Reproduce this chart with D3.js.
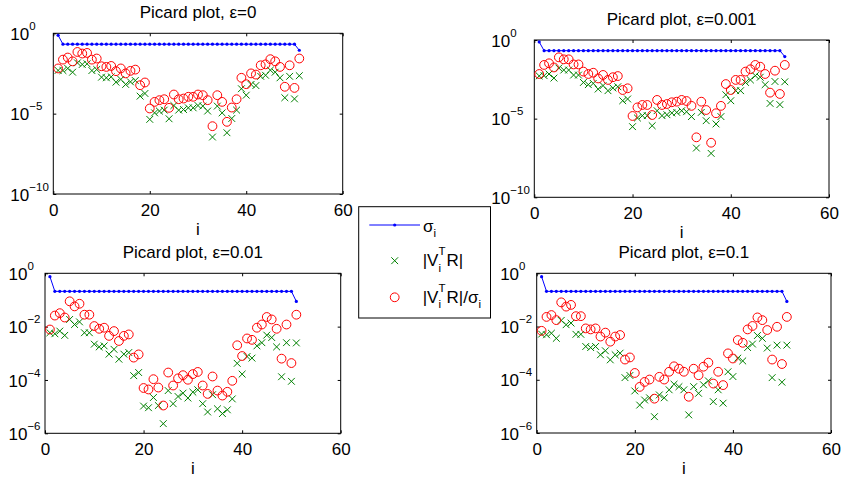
<!DOCTYPE html>
<html><head><meta charset="utf-8">
<script src="https://cdn.jsdelivr.net/npm/d3@7"></script>
<style>
body{margin:0;background:#fff}
svg{display:block}
text{font-family:"Liberation Sans",Arial,Helvetica,sans-serif;fill:#000}
</style></head><body>
<svg id="c" width="841" height="481"></svg>
<script>
// ---------------- data ----------------
const idx = [1,2,3,4,5,6,7,8,9,10,11,12,13,14,15,16,17,18,19,20,21,22,23,24,25,26,27,28,29,30,
  31,32,33,34,35,36,37,38,39,40,41,42,43,44,45,46,47,48,49,50,51];
const sigma = [0.75,0.21,0.21,0.21,0.21,0.21,0.21,0.21,0.21,0.21,0.21,0.21,0.21,0.21,0.21,0.21,0.21,
  0.21,0.21,0.21,0.21,0.21,0.21,0.21,0.21,0.21,0.21,0.21,0.21,0.21,0.21,0.21,0.21,0.21,0.21,0.21,0.21,
  0.21,0.21,0.21,0.21,0.21,0.21,0.21,0.21,0.21,0.21,0.21,0.21,0.21,0.088];
const titles = ["Picard plot, \u03b5=0","Picard plot, \u03b5=0.001","Picard plot, \u03b5=0.01","Picard plot, \u03b5=0.1"];
const xTicks = [0,20,40,60];
const yTicksWide = [1e-10,1e-5,1];
const yTicksNarrow = [1e-6,1e-4,1e-2,1];
const legendLabels = ["sigma","vtr","ratio"];

const vtrEps0 = [4.9e-3,4.8e-3,6.5e-3,3.8e-3,1.45e-2,1.15e-2,1.26e-2,4.8e-3,5.6e-3,1.86e-3,
 1.7e-3,1.95e-3,9.1e-4,1.35e-3,6.6e-4,9.5e-4,1.15e-3,1.23e-4,1.8e-4,4.4e-6,
 1.12e-5,1.45e-5,1.66e-5,4.8e-6,3.2e-5,1.66e-5,1.8e-5,2.3e-5,2.3e-5,3.2e-5,
 2.95e-5,1.45e-5,3.5e-7,2.95e-5,1.12e-5,6.5e-7,5.0e-6,1.66e-5,3.55e-4,1.41e-4,
 6.6e-4,5.6e-4,2.1e-3,2.45e-3,5.1e-3,3.8e-3,1.7e-3,9.8e-5,2.1e-3,8.3e-5,2.3e-3];
const ratioEps0 = [6.5e-3,2.3e-2,3.1e-2,1.8e-2,6.9e-2,5.5e-2,6.0e-2,2.3e-2,2.7e-2,8.9e-3,
 8.1e-3,9.3e-3,4.4e-3,6.5e-3,3.2e-3,4.6e-3,5.5e-3,5.9e-4,8.7e-4,2.1e-5,
 5.4e-5,6.9e-5,7.9e-5,2.3e-5,1.55e-4,7.9e-5,8.7e-5,1.12e-4,1.12e-4,1.55e-4,
 1.41e-4,6.9e-5,1.66e-6,1.41e-4,5.4e-5,3.1e-6,2.4e-5,7.9e-5,1.7e-3,6.8e-4,
 3.2e-3,2.7e-3,1.02e-2,1.17e-2,2.45e-2,1.8e-2,8.1e-3,4.7e-4,1.02e-2,4.0e-4,2.7e-2];

const vtrEps001 = [5.2e-3,5.4e-3,6.9e-3,3.8e-3,1.66e-2,1.23e-2,1.23e-2,5.9e-3,5.9e-3,2.0e-3,
 1.45e-3,1.74e-3,7.6e-4,1.26e-3,6.0e-4,8.9e-4,1.07e-3,1.38e-4,1.78e-4,3.1e-6,
 1.10e-5,1.55e-5,1.55e-5,3.55e-6,3.2e-5,1.55e-5,1.78e-5,2.3e-5,2.5e-5,3.2e-5,
 2.75e-5,1.35e-5,1.35e-7,2.5e-5,7.4e-6,6.2e-8,4.6e-6,1.35e-5,3.3e-4,1.38e-4,
 6.0e-4,6.0e-4,2.0e-3,2.9e-3,5.4e-3,4.3e-3,1.45e-3,9.3e-5,2.3e-3,7.8e-5,2.2e-3];
const ratioEps001 = [6.9e-3,2.6e-2,3.3e-2,1.8e-2,7.9e-2,5.9e-2,5.9e-2,2.8e-2,2.8e-2,9.8e-3,
 6.9e-3,8.3e-3,3.6e-3,6.0e-3,2.9e-3,4.3e-3,5.1e-3,6.6e-4,8.5e-4,1.48e-5,
 5.2e-5,7.4e-5,7.4e-5,1.7e-5,1.55e-4,7.4e-5,8.5e-5,1.10e-4,1.2e-4,1.55e-4,
 1.32e-4,6.5e-5,6.5e-7,1.2e-4,3.55e-5,2.95e-7,2.2e-5,6.5e-5,1.58e-3,6.6e-4,
 2.9e-3,2.9e-3,9.8e-3,1.38e-2,2.6e-2,2.0e-2,6.9e-3,4.5e-4,1.12e-2,3.7e-4,2.6e-2];

const vtrEps01 = [5.9e-3,5.4e-3,6.8e-3,4.7e-3,1.86e-2,1.2e-2,1.51e-2,5.9e-3,5.9e-3,2.2e-3,
 1.74e-3,1.9e-3,9.3e-4,1.41e-3,6.0e-4,9.3e-4,1.07e-3,1.45e-4,1.9e-4,1.05e-5,
 9.1e-6,2.2e-5,1.10e-5,2.3e-6,4.0e-5,1.29e-5,2.4e-5,3.2e-5,2.1e-5,3.5e-5,
 4.3e-5,1.29e-5,6.3e-6,2.8e-5,8.3e-6,5.5e-6,7.6e-6,1.95e-5,4.2e-4,1.66e-4,
 7.6e-4,6.6e-4,1.9e-3,2.5e-3,4.8e-3,3.9e-3,1.74e-3,1.32e-4,2.5e-3,8.9e-5,2.45e-3];
const ratioEps01 = [7.8e-3,2.6e-2,3.2e-2,2.2e-2,8.9e-2,5.75e-2,7.2e-2,2.8e-2,2.8e-2,1.05e-2,
 8.3e-3,9.1e-3,4.5e-3,6.8e-3,2.9e-3,4.5e-3,5.1e-3,6.9e-4,9.1e-4,5.0e-5,
 4.4e-5,1.07e-4,5.2e-5,1.10e-5,1.9e-4,6.2e-5,1.15e-4,1.51e-4,1.02e-4,1.66e-4,
 2.0e-4,6.2e-5,3.0e-5,1.35e-4,4.0e-5,2.6e-5,3.6e-5,9.3e-5,2.0e-3,7.9e-4,
 3.6e-3,3.2e-3,9.1e-3,1.2e-2,2.3e-2,1.86e-2,8.3e-3,6.3e-4,1.2e-2,4.3e-4,2.8e-2];

const vtrEps1 = [5.2e-3,4.9e-3,5.6e-3,3.6e-3,1.7e-2,1.17e-2,1.35e-2,5.1e-3,5.1e-3,1.78e-3,
 1.62e-3,1.78e-3,8.7e-4,1.23e-3,5.6e-4,8.7e-4,1.0e-3,1.2e-4,1.45e-4,3.8e-5,
 1.12e-5,1.74e-5,2.1e-5,4.1e-6,2.7e-5,2.1e-5,4.2e-5,6.8e-5,5.5e-5,4.2e-5,
 4.8e-6,5.5e-5,3.1e-5,6.5e-5,9.1e-5,1.51e-5,4.2e-5,1.32e-5,2.0e-4,1.32e-4,
 6.5e-4,5.1e-4,1.62e-3,2.2e-3,4.6e-3,3.6e-3,1.55e-3,1.2e-4,2.0e-3,8.1e-5,2.0e-3];
const ratioEps1 = [6.9e-3,2.3e-2,2.7e-2,1.74e-2,8.1e-2,5.6e-2,6.5e-2,2.45e-2,2.45e-2,8.5e-3,
 7.8e-3,8.5e-3,4.2e-3,5.9e-3,2.7e-3,4.2e-3,4.8e-3,5.75e-4,6.9e-4,1.8e-4,
 5.4e-5,8.3e-5,1.02e-4,1.95e-5,1.29e-4,1.02e-4,2.0e-4,3.2e-4,2.6e-4,2.0e-4,
 2.3e-5,2.6e-4,1.48e-4,3.1e-4,4.4e-4,7.2e-5,2.0e-4,6.3e-5,9.8e-4,6.3e-4,
 3.1e-3,2.45e-3,7.8e-3,1.05e-2,2.2e-2,1.74e-2,7.4e-3,5.75e-4,9.8e-3,3.9e-4,2.3e-2];

// ---------------- layout / style ----------------
const BLUE = "#0000ff", GREEN = "#008000", RED = "#ff0000";
const FS = 17, SUBFS = 11.5;
const panels = [
  {title: titles[0], vtr: vtrEps0,   ratio: ratioEps0,   l: 53.3,  r: 342.7, t: 33.3,  b: 194,   dom: [1e-10, 1], ticks: yTicksWide},
  {title: titles[1], vtr: vtrEps001, ratio: ratioEps001, l: 534.3, r: 829,   t: 40,    b: 197.3, dom: [1e-10, 1], ticks: yTicksWide},
  {title: titles[2], vtr: vtrEps01,  ratio: ratioEps01,  l: 45,    r: 340.7, t: 273.3, b: 433.3, dom: [1e-6, 1],  ticks: yTicksNarrow},
  {title: titles[3], vtr: vtrEps1,   ratio: ratioEps1,   l: 536.7, r: 831,   t: 273.3, b: 433,   dom: [1e-6, 1],  ticks: yTicksNarrow}
];

const svg = d3.select("#c");
svg.append("rect").attr("width", 841).attr("height", 481).attr("fill", "#fff");

function crossPath(s) { return `M${-s},${-s}L${s},${s}M${-s},${s}L${s},${-s}`; }
const CR = 3.4, OR = 4.4;

panels.forEach(p => {
  const g = svg.append("g");
  const x = d3.scaleLinear().domain([0, 60]).range([p.l, p.r]);
  const y = d3.scaleLog().domain(p.dom).range([p.b, p.t]);

  // axes
  const ax = d3.axisBottom(x).tickValues(xTicks).tickSizeInner(-3).tickSizeOuter(0).tickPadding(10);
  const gx = g.append("g").attr("transform", `translate(0,${p.b})`).call(ax);
  const axT = d3.axisTop(x).tickValues(xTicks).tickSizeInner(-3).tickSizeOuter(0).tickFormat("");
  const gxt = g.append("g").attr("transform", `translate(0,${p.t})`).call(axT);
  const ay = d3.axisLeft(y).tickValues(p.ticks).tickSizeInner(-3).tickSizeOuter(0).tickFormat(d => "10");
  const gy = g.append("g").attr("transform", `translate(${p.l},0)`).call(ay);
  const ayR = d3.axisRight(y).tickValues(p.ticks).tickSizeInner(-3).tickSizeOuter(0).tickFormat("");
  const gyr = g.append("g").attr("transform", `translate(${p.r},0)`).call(ayR);
  [gx, gxt, gy, gyr].forEach(a => {
    a.select(".domain").remove();
    a.selectAll(".tick line").attr("stroke", "#000").attr("stroke-width", 1);
    a.selectAll("text").attr("font-size", FS).attr("font-family", '"Liberation Sans",Arial,sans-serif').attr("fill", "#000");
  });
  // exponent labels
  let maxW = 0;
  gy.selectAll(".tick text").each(function(d) {
    const t = d3.select(this);
    const e = Math.round(Math.log10(d));
    t.text(null).attr("dy", "0.36em");
    t.append("tspan").text("10");
    t.append("tspan").attr("font-size", SUBFS).attr("dy", -10)
      .text(e < 0 ? "\u2212" + (-e) : String(e));
    maxW = Math.max(maxW, this.getComputedTextLength());
  });
  gy.selectAll(".tick text").attr("text-anchor", "start").attr("x", -(maxW + 4.5));

  // box
  g.append("rect").attr("x", p.l).attr("y", p.t).attr("width", p.r - p.l).attr("height", p.b - p.t)
    .attr("fill", "none").attr("stroke", "#000").attr("stroke-width", 1);

  // title & xlabel
  g.append("text").attr("x", (p.l + p.r) / 2).attr("y", p.t - 15).attr("text-anchor", "middle")
    .attr("font-size", FS).text(p.title);
  g.append("text").attr("x", (p.l + p.r) / 2).attr("y", p.b + 40.5).attr("text-anchor", "middle")
    .attr("font-size", FS).text("i");

  // sigma line with dots
  const line = d3.line().x((d, k) => x(idx[k])).y(d => y(d));
  g.append("path").datum(sigma).attr("d", line).attr("fill", "none").attr("stroke", BLUE).attr("stroke-width", 1);
  g.selectAll(".sd").data(sigma).enter().append("circle")
    .attr("cx", (d, k) => x(idx[k])).attr("cy", d => y(d)).attr("r", 1.6).attr("fill", BLUE);

  // |V^T R| crosses
  g.selectAll(".cx").data(p.vtr).enter().append("path")
    .attr("transform", (d, k) => `translate(${x(idx[k])},${y(d)})`)
    .attr("d", crossPath(CR)).attr("stroke", GREEN).attr("stroke-width", 1).attr("fill", "none");

  // ratio circles
  g.selectAll(".co").data(p.ratio).enter().append("circle")
    .attr("cx", (d, k) => x(idx[k])).attr("cy", d => y(d)).attr("r", OR)
    .attr("fill", "none").attr("stroke", RED).attr("stroke-width", 1);
});

// ---------------- legend ----------------
const lg = svg.append("g");
lg.append("rect").attr("x", 358.7).attr("y", 206.7).attr("width", 131.8).attr("height", 111.3)
  .attr("fill", "#fff").attr("stroke", "#000").attr("stroke-width", 1);

function rich(g, x0, y0, segs) {
  let cx = x0;
  segs.forEach(s => {
    const small = s.sub || s.sup;
    const t = g.append("text").attr("x", cx + (s.dx || 0)).attr("y", y0 + (s.sub ? 5.5 : s.sup ? -11 : 0))
      .attr("font-size", small ? SUBFS : FS).text(s.t);
    const w = t.node().getComputedTextLength() + (s.dx || 0);
    if (!s.stack) cx += w;
  });
}
const lx = 369.3, lx2 = 420, mx = 394.7;
// sigma entry
lg.append("line").attr("x1", lx).attr("x2", lx2).attr("y1", 225).attr("y2", 225).attr("stroke", BLUE).attr("stroke-width", 1);
lg.append("circle").attr("cx", mx).attr("cy", 225).attr("r", 1.6).attr("fill", BLUE);
rich(lg, 423, 231.5, [{t: "\u03c3"}, {t: "i", sub: true}]);
// vtr entry
lg.append("path").attr("transform", `translate(${mx},260.7)`).attr("d", crossPath(CR))
  .attr("stroke", GREEN).attr("stroke-width", 1).attr("fill", "none");
rich(lg, 422.7, 266, [{t: "|V"}, {t: "i", sub: true, stack: true}, {t: "T", sup: true}, {t: "R|", dx: 1}]);
// ratio entry
lg.append("circle").attr("cx", mx).attr("cy", 297.3).attr("r", OR)
  .attr("fill", "none").attr("stroke", RED).attr("stroke-width", 1);
rich(lg, 422.7, 302.5, [{t: "|V"}, {t: "i", sub: true, stack: true}, {t: "T", sup: true}, {t: "R|/\u03c3", dx: 1}, {t: "i", sub: true}]);
</script>
</body></html>
